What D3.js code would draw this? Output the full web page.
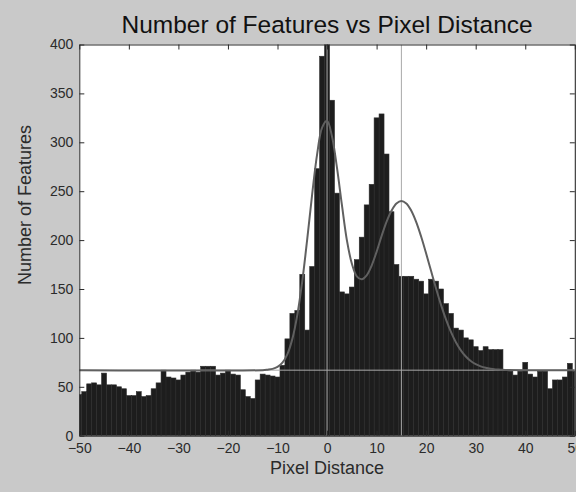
<!DOCTYPE html>
<html>
<head>
<meta charset="utf-8">
<script src="https://cdn.jsdelivr.net/npm/d3@7"></script>
<style>
  html, body { margin: 0; padding: 0; background: #c9c9c9; }
  svg { display: block; }
  text { font-family: "Liberation Sans", Arial, Helvetica, sans-serif; }
</style>
</head>
<body>
<svg id="chart" width="576" height="492"></svg>
<script>
// Histogram bin centres (pixel distance) and counts
const binCenters = d3.range(-50, 51);
const counts = [
  42, 45, 53, 54, 52, 64, 52, 52, 50, 48,      // -50 .. -41
  41, 41, 45, 40, 41, 48, 54, 67, 60, 59,      // -40 .. -31
  57, 62, 65, 67, 65, 71, 71, 71, 62, 64,      // -30 .. -21
  67, 63, 62, 47, 40, 38, 57, 63, 62, 61,      // -20 .. -11
  60, 72, 99, 125, 128, 165, 108, 173, 273, 388, // -10 .. -1
  415, 343, 248, 147, 145, 152, 180, 203, 236, 257, // 0 .. 9
  325, 329, 288, 229, 175, 163, 163, 163, 160, 158, // 10 .. 19
  145, 160, 158, 150, 135, 125, 110, 108, 100, 98,  // 20 .. 29
  91, 87, 91, 88, 88, 88, 67, 66, 62, 66,      // 30 .. 39
  75, 63, 60, 66, 66, 48, 57, 57, 60, 74,      // 40 .. 49
  66                                           // 50
];

// Fitted two-peak curve sampled along the distance axis
const fitX = [-50, -13, -12, -11, -10, -9, -8, -7, -6, -5, -4, -3, -2, -1, 0,
              1, 2, 3, 4, 5, 6, 7, 8, 9, 10, 11, 12, 13, 14, 15,
              16, 17, 18, 19, 20, 21, 22, 23, 24, 25, 26, 27, 28, 29, 30,
              31, 32, 33, 34, 35, 36, 50];
const fitY = [67, 67, 67.5, 68.3, 70.3, 74.7, 83.5, 99, 123.5, 158, 201, 247, 288, 315, 322,
              306, 274, 236, 200, 176, 163, 160, 164, 174, 188, 204, 218.6, 230, 237.4, 240,
              237.4, 230, 218.4, 203.4, 186.3, 168.3, 150.5, 133.8, 118.9, 106.1, 95.6, 87.3, 81, 76.4, 73.1,
              70.9, 69.4, 68.4, 67.8, 67.5, 67.2, 67];

// Reference lines: baseline level and the two peak positions
const baselineLevel = [67];
const peakPositions = [0, 15];

// Axis ticks
const xTicks = [-50, -40, -30, -20, -10, 0, 10, 20, 30, 40, 50];
const yTicks = [0, 50, 100, 150, 200, 250, 300, 350, 400];

const titleText = "Number of Features vs Pixel Distance";
const xLabelText = "Pixel Distance";
const yLabelText = "Number of Features";

const svg = d3.select("#chart");
const W = 576, H = 492;
const plot = { left: 79.3, right: 574.8, top: 44.5, bottom: 435.7 };

svg.append("rect").attr("width", W).attr("height", H).attr("fill", "#c9c9c9");

const x = d3.scaleLinear().domain([-50, 50]).range([plot.left, plot.right]);
const y = d3.scaleLinear().domain([0, 400]).range([plot.bottom, plot.top]);

svg.append("defs").append("clipPath").attr("id", "plotclip")
  .append("rect")
  .attr("x", plot.left).attr("y", plot.top)
  .attr("width", plot.right - plot.left).attr("height", plot.bottom - plot.top);

// plot background
svg.append("rect")
  .attr("x", plot.left).attr("y", plot.top)
  .attr("width", plot.right - plot.left).attr("height", plot.bottom - plot.top)
  .attr("fill", "#ffffff");

const g = svg.append("g").attr("clip-path", "url(#plotclip)");

// histogram bars
g.selectAll("rect.bar")
  .data(binCenters.map((c, i) => ({ c, v: counts[i] })))
  .join("rect")
  .attr("class", "bar")
  .attr("x", d => x(d.c - 0.5))
  .attr("width", d => x(d.c + 0.5) - x(d.c - 0.5))
  .attr("y", d => y(Math.min(d.v, 410)))
  .attr("height", d => y(0) - y(Math.min(d.v, 410)))
  .attr("fill", "#1d1d1d")
  .attr("stroke", "#2c2c2c")
  .attr("stroke-width", 0.6);

// thin reference lines
g.selectAll("line.hline")
  .data(baselineLevel)
  .join("line")
  .attr("class", "hline")
  .attr("x1", plot.left).attr("x2", plot.right)
  .attr("y1", d => y(d)).attr("y2", d => y(d))
  .attr("stroke", "#a8a8a8").attr("stroke-width", 1);

g.selectAll("line.vline")
  .data(peakPositions)
  .join("line")
  .attr("class", "vline")
  .attr("x1", d => x(d)).attr("x2", d => x(d))
  .attr("y1", plot.top).attr("y2", plot.bottom)
  .attr("stroke", "#a8a8a8").attr("stroke-width", 1);

// fitted curve
const line = d3.line()
  .x((d, i) => x(fitX[i]))
  .y(d => y(d))
  .curve(d3.curveCatmullRom);

g.append("path")
  .datum(fitY)
  .attr("d", line)
  .attr("fill", "none")
  .attr("stroke", "#606060")
  .attr("stroke-width", 2);

// axes box and inward ticks
const axisColor = "#2a2a2a";
const tickLen = 5;

const xAxisBottom = d3.axisBottom(x).tickValues(xTicks).tickSizeInner(-tickLen).tickSizeOuter(0).tickFormat(d3.format("d"));
const xAxisTop = d3.axisTop(x).tickValues(xTicks).tickSizeInner(-tickLen).tickSizeOuter(0).tickFormat("");
const yAxisLeft = d3.axisLeft(y).tickValues(yTicks).tickSizeInner(-tickLen).tickSizeOuter(0).tickFormat(d3.format("d"));
const yAxisRight = d3.axisRight(y).tickValues(yTicks).tickSizeInner(-tickLen).tickSizeOuter(0).tickFormat("");

function styleAxis(sel) {
  sel.select(".domain").attr("stroke", axisColor).attr("stroke-width", 1);
  sel.selectAll(".tick line").attr("stroke", axisColor).attr("stroke-width", 1);
  sel.selectAll(".tick text")
    .attr("fill", "#2b2b2b")
    .style("font-size", "14px")
    .style("font-family", "'Liberation Sans', Arial, sans-serif");
}

svg.append("g").attr("transform", `translate(0,${plot.bottom})`).call(xAxisBottom).call(styleAxis)
  .selectAll(".tick text").attr("dy", null).attr("y", 17);
svg.append("g").attr("transform", `translate(0,${plot.top})`).call(xAxisTop).call(styleAxis);
svg.append("g").attr("transform", `translate(${plot.left},0)`).call(yAxisLeft).call(styleAxis)
  .selectAll(".tick text").attr("x", -6);
svg.append("g").attr("transform", `translate(${plot.right},0)`).call(yAxisRight).call(styleAxis);

// title and axis labels
svg.append("text")
  .attr("x", (plot.left + plot.right) / 2).attr("y", 33)
  .attr("text-anchor", "middle")
  .attr("fill", "#111")
  .style("font-size", "24.5px")
  .text(titleText);

svg.append("text")
  .attr("x", (plot.left + plot.right) / 2).attr("y", 474)
  .attr("text-anchor", "middle")
  .attr("fill", "#2b2b2b")
  .style("font-size", "18px")
  .text(xLabelText);

svg.append("text")
  .attr("transform", `translate(31,205) rotate(-90)`)
  .attr("text-anchor", "middle")
  .attr("fill", "#2b2b2b")
  .style("font-size", "18px")
  .text(yLabelText);
</script>
</body>
</html>
